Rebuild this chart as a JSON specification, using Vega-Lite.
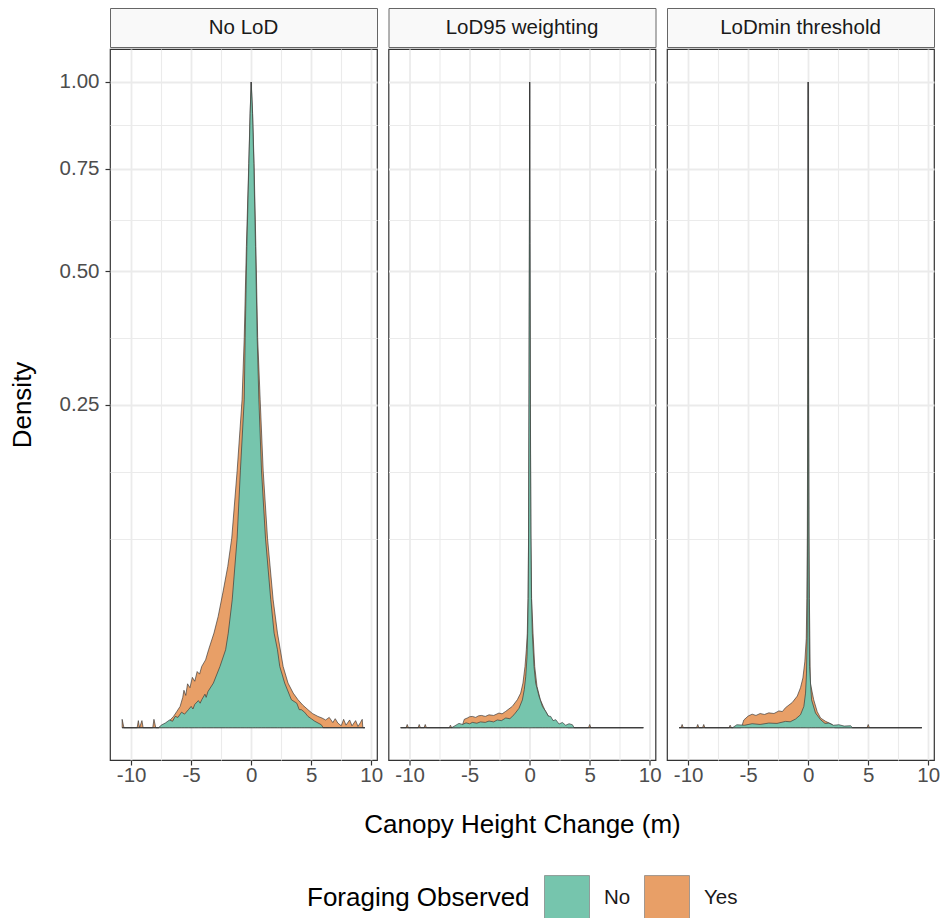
{
  "$schema": "https://vega.github.io/schema/vega-lite/v6.json",
  "background": "white",
  "padding": {"left": 8, "top": 7, "right": 0, "bottom": 0},
  "datasets": {
    "dens": [
      {"panel":"No LoD","foraging":"No","change":-10.75,"density":0},
      {"panel":"No LoD","foraging":"No","change":-7.7,"density":0},
      {"panel":"No LoD","foraging":"No","change":-7.5,"density":0.000016},
      {"panel":"No LoD","foraging":"No","change":-7.16,"density":0.0000518},
      {"panel":"No LoD","foraging":"No","change":-6.8,"density":0.000144},
      {"panel":"No LoD","foraging":"No","change":-6.55,"density":0.000100},
      {"panel":"No LoD","foraging":"No","change":-6.33,"density":0.000306},
      {"panel":"No LoD","foraging":"No","change":-6.1,"density":0.000256},
      {"panel":"No LoD","foraging":"No","change":-5.8,"density":0.000576},
      {"panel":"No LoD","foraging":"No","change":-5.55,"density":0.000441},
      {"panel":"No LoD","foraging":"No","change":-5.23,"density":0.000778},
      {"panel":"No LoD","foraging":"No","change":-5.0,"density":0.00109},
      {"panel":"No LoD","foraging":"No","change":-4.85,"density":0.000841},
      {"panel":"No LoD","foraging":"No","change":-4.7,"density":0.0013},
      {"panel":"No LoD","foraging":"No","change":-4.4,"density":0.00176},
      {"panel":"No LoD","foraging":"No","change":-4.25,"density":0.00144},
      {"panel":"No LoD","foraging":"No","change":-4.12,"density":0.001875},
      {"panel":"No LoD","foraging":"No","change":-3.85,"density":0.0027},
      {"panel":"No LoD","foraging":"No","change":-3.75,"density":0.00221},
      {"panel":"No LoD","foraging":"No","change":-3.6,"density":0.003136},
      {"panel":"No LoD","foraging":"No","change":-3.15,"density":0.004775},
      {"panel":"No LoD","foraging":"No","change":-2.6,"density":0.009006},
      {"panel":"No LoD","foraging":"No","change":-2.13,"density":0.01457},
      {"panel":"No LoD","foraging":"No","change":-1.91,"density":0.02146},
      {"panel":"No LoD","foraging":"No","change":-1.58,"density":0.03924},
      {"panel":"No LoD","foraging":"No","change":-1.17,"density":0.0862},
      {"panel":"No LoD","foraging":"No","change":-0.9,"density":0.1582},
      {"panel":"No LoD","foraging":"No","change":-0.58,"density":0.2578},
      {"panel":"No LoD","foraging":"No","change":-0.5,"density":0.3648},
      {"panel":"No LoD","foraging":"No","change":-0.36,"density":0.555},
      {"panel":"No LoD","foraging":"No","change":-0.19,"density":0.7639},
      {"panel":"No LoD","foraging":"No","change":-0.083,"density":0.9054},
      {"panel":"No LoD","foraging":"No","change":0,"density":1},
      {"panel":"No LoD","foraging":"No","change":0.11,"density":0.9054},
      {"panel":"No LoD","foraging":"No","change":0.22,"density":0.7639},
      {"panel":"No LoD","foraging":"No","change":0.36,"density":0.555},
      {"panel":"No LoD","foraging":"No","change":0.5,"density":0.3648},
      {"panel":"No LoD","foraging":"No","change":0.64,"density":0.2578},
      {"panel":"No LoD","foraging":"No","change":0.86,"density":0.1582},
      {"panel":"No LoD","foraging":"No","change":1.19,"density":0.0862},
      {"panel":"No LoD","foraging":"No","change":1.63,"density":0.03924},
      {"panel":"No LoD","foraging":"No","change":1.91,"density":0.02146},
      {"panel":"No LoD","foraging":"No","change":2.19,"density":0.01457},
      {"panel":"No LoD","foraging":"No","change":2.38,"density":0.009006},
      {"panel":"No LoD","foraging":"No","change":2.79,"density":0.004775},
      {"panel":"No LoD","foraging":"No","change":3.35,"density":0.001875},
      {"panel":"No LoD","foraging":"No","change":3.8,"density":0.00144},
      {"panel":"No LoD","foraging":"No","change":4.0,"density":0.000784},
      {"panel":"No LoD","foraging":"No","change":4.18,"density":0.000778},
      {"panel":"No LoD","foraging":"No","change":4.45,"density":0.000576},
      {"panel":"No LoD","foraging":"No","change":4.73,"density":0.000306},
      {"panel":"No LoD","foraging":"No","change":5.3,"density":0.0001},
      {"panel":"No LoD","foraging":"No","change":5.84,"density":0.0000212},
      {"panel":"No LoD","foraging":"No","change":6.0,"density":0},
      {"panel":"No LoD","foraging":"No","change":9.47,"density":0},

      {"panel":"No LoD","foraging":"Yes","change":-10.75,"density":0.000169},
      {"panel":"No LoD","foraging":"Yes","change":-10.6,"density":0},
      {"panel":"No LoD","foraging":"Yes","change":-9.5,"density":0},
      {"panel":"No LoD","foraging":"Yes","change":-9.4,"density":0.000121},
      {"panel":"No LoD","foraging":"Yes","change":-9.3,"density":0},
      {"panel":"No LoD","foraging":"Yes","change":-9.1,"density":0.000121},
      {"panel":"No LoD","foraging":"Yes","change":-9.0,"density":0},
      {"panel":"No LoD","foraging":"Yes","change":-8.2,"density":0},
      {"panel":"No LoD","foraging":"Yes","change":-8.1,"density":0.000169},
      {"panel":"No LoD","foraging":"Yes","change":-7.95,"density":0},
      {"panel":"No LoD","foraging":"Yes","change":-7.7,"density":0},
      {"panel":"No LoD","foraging":"Yes","change":-7.3,"density":0.0000212},
      {"panel":"No LoD","foraging":"Yes","change":-6.9,"density":0.000081},
      {"panel":"No LoD","foraging":"Yes","change":-6.47,"density":0.000306},
      {"panel":"No LoD","foraging":"Yes","change":-6.2,"density":0.000625},
      {"panel":"No LoD","foraging":"Yes","change":-5.92,"density":0.001089},
      {"panel":"No LoD","foraging":"Yes","change":-5.7,"density":0.00221},
      {"panel":"No LoD","foraging":"Yes","change":-5.6,"density":0.003364},
      {"panel":"No LoD","foraging":"Yes","change":-5.45,"density":0.0025},
      {"panel":"No LoD","foraging":"Yes","change":-5.3,"density":0.004624},
      {"panel":"No LoD","foraging":"Yes","change":-5.1,"density":0.003844},
      {"panel":"No LoD","foraging":"Yes","change":-4.9,"density":0.006084},
      {"panel":"No LoD","foraging":"Yes","change":-4.7,"density":0.005184},
      {"panel":"No LoD","foraging":"Yes","change":-4.5,"density":0.007569},
      {"panel":"No LoD","foraging":"Yes","change":-4.3,"density":0.006889},
      {"panel":"No LoD","foraging":"Yes","change":-4.12,"density":0.009006},
      {"panel":"No LoD","foraging":"Yes","change":-3.8,"density":0.011025},
      {"panel":"No LoD","foraging":"Yes","change":-3.55,"density":0.01457},
      {"panel":"No LoD","foraging":"Yes","change":-3.1,"density":0.02146},
      {"panel":"No LoD","foraging":"Yes","change":-2.75,"density":0.02969},
      {"panel":"No LoD","foraging":"Yes","change":-2.35,"density":0.0441},
      {"panel":"No LoD","foraging":"Yes","change":-1.95,"density":0.0624},
      {"panel":"No LoD","foraging":"Yes","change":-1.62,"density":0.0862},
      {"panel":"No LoD","foraging":"Yes","change":-1.17,"density":0.1582},
      {"panel":"No LoD","foraging":"Yes","change":-0.76,"density":0.2578},
      {"panel":"No LoD","foraging":"Yes","change":-0.58,"density":0.3648},
      {"panel":"No LoD","foraging":"Yes","change":-0.4,"density":0.555},
      {"panel":"No LoD","foraging":"Yes","change":-0.2,"density":0.7639},
      {"panel":"No LoD","foraging":"Yes","change":-0.09,"density":0.9054},
      {"panel":"No LoD","foraging":"Yes","change":0,"density":1},
      {"panel":"No LoD","foraging":"Yes","change":0.12,"density":0.9054},
      {"panel":"No LoD","foraging":"Yes","change":0.24,"density":0.7639},
      {"panel":"No LoD","foraging":"Yes","change":0.39,"density":0.555},
      {"panel":"No LoD","foraging":"Yes","change":0.54,"density":0.3648},
      {"panel":"No LoD","foraging":"Yes","change":0.75,"density":0.2578},
      {"panel":"No LoD","foraging":"Yes","change":1.0,"density":0.1582},
      {"panel":"No LoD","foraging":"Yes","change":1.36,"density":0.0862},
      {"panel":"No LoD","foraging":"Yes","change":1.83,"density":0.03924},
      {"panel":"No LoD","foraging":"Yes","change":2.19,"density":0.02146},
      {"panel":"No LoD","foraging":"Yes","change":2.66,"density":0.009006},
      {"panel":"No LoD","foraging":"Yes","change":3.07,"density":0.004775},
      {"panel":"No LoD","foraging":"Yes","change":3.5,"density":0.002873},
      {"panel":"No LoD","foraging":"Yes","change":3.9,"density":0.001875},
      {"panel":"No LoD","foraging":"Yes","change":4.3,"density":0.001225},
      {"panel":"No LoD","foraging":"Yes","change":4.73,"density":0.000778},
      {"panel":"No LoD","foraging":"Yes","change":5.1,"density":0.000484},
      {"panel":"No LoD","foraging":"Yes","change":5.56,"density":0.000306},
      {"panel":"No LoD","foraging":"Yes","change":5.9,"density":0.000225},
      {"panel":"No LoD","foraging":"Yes","change":6.2,"density":0.000144},
      {"panel":"No LoD","foraging":"Yes","change":6.5,"density":0.000256},
      {"panel":"No LoD","foraging":"Yes","change":6.8,"density":0.000064},
      {"panel":"No LoD","foraging":"Yes","change":7.0,"density":0.000196},
      {"panel":"No LoD","foraging":"Yes","change":7.22,"density":0.0000518},
      {"panel":"No LoD","foraging":"Yes","change":7.5,"density":0.000009},
      {"panel":"No LoD","foraging":"Yes","change":7.7,"density":0.000169},
      {"panel":"No LoD","foraging":"Yes","change":7.9,"density":0.000016},
      {"panel":"No LoD","foraging":"Yes","change":8.2,"density":0.000144},
      {"panel":"No LoD","foraging":"Yes","change":8.4,"density":0.000009},
      {"panel":"No LoD","foraging":"Yes","change":8.7,"density":0.000121},
      {"panel":"No LoD","foraging":"Yes","change":8.9,"density":0.000004},
      {"panel":"No LoD","foraging":"Yes","change":9.1,"density":0.000064},
      {"panel":"No LoD","foraging":"Yes","change":9.25,"density":0.000169},
      {"panel":"No LoD","foraging":"Yes","change":9.3,"density":0},
      {"panel":"No LoD","foraging":"Yes","change":9.47,"density":0},

      {"panel":"LoD95 weighting","foraging":"No","change":-10.75,"density":0},
      {"panel":"LoD95 weighting","foraging":"No","change":-6.5,"density":0},
      {"panel":"LoD95 weighting","foraging":"No","change":-5.89,"density":0.0000449},
      {"panel":"LoD95 weighting","foraging":"No","change":-5.6,"density":0.0000256},
      {"panel":"LoD95 weighting","foraging":"No","change":-5.3,"density":0.0000563},
      {"panel":"LoD95 weighting","foraging":"No","change":-5.0,"density":0.0000361},
      {"panel":"LoD95 weighting","foraging":"No","change":-4.78,"density":0.0000672},
      {"panel":"LoD95 weighting","foraging":"No","change":-4.4,"density":0.0000484},
      {"panel":"LoD95 weighting","foraging":"No","change":-4.1,"density":0.000081},
      {"panel":"LoD95 weighting","foraging":"No","change":-3.7,"density":0.0000676},
      {"panel":"LoD95 weighting","foraging":"No","change":-3.39,"density":0.000106},
      {"panel":"LoD95 weighting","foraging":"No","change":-3.0,"density":0.000081},
      {"panel":"LoD95 weighting","foraging":"No","change":-2.7,"density":0.000144},
      {"panel":"LoD95 weighting","foraging":"No","change":-2.35,"density":0.000121},
      {"panel":"LoD95 weighting","foraging":"No","change":-2.0,"density":0.000225},
      {"panel":"LoD95 weighting","foraging":"No","change":-1.65,"density":0.000196},
      {"panel":"LoD95 weighting","foraging":"No","change":-1.31,"density":0.0004},
      {"panel":"LoD95 weighting","foraging":"No","change":-0.89,"density":0.0009},
      {"panel":"LoD95 weighting","foraging":"No","change":-0.61,"density":0.00185},
      {"panel":"LoD95 weighting","foraging":"No","change":-0.45,"density":0.00348},
      {"panel":"LoD95 weighting","foraging":"No","change":-0.33,"density":0.00624},
      {"panel":"LoD95 weighting","foraging":"No","change":-0.22,"density":0.0121},
      {"panel":"LoD95 weighting","foraging":"No","change":-0.17,"density":0.02146},
      {"panel":"LoD95 weighting","foraging":"No","change":-0.12,"density":0.04},
      {"panel":"LoD95 weighting","foraging":"No","change":-0.09,"density":0.09},
      {"panel":"LoD95 weighting","foraging":"No","change":-0.06,"density":0.25},
      {"panel":"LoD95 weighting","foraging":"No","change":-0.03,"density":0.5625},
      {"panel":"LoD95 weighting","foraging":"No","change":0,"density":1},
      {"panel":"LoD95 weighting","foraging":"No","change":0.03,"density":0.5625},
      {"panel":"LoD95 weighting","foraging":"No","change":0.06,"density":0.25},
      {"panel":"LoD95 weighting","foraging":"No","change":0.1,"density":0.09},
      {"panel":"LoD95 weighting","foraging":"No","change":0.15,"density":0.04},
      {"panel":"LoD95 weighting","foraging":"No","change":0.22,"density":0.02146},
      {"panel":"LoD95 weighting","foraging":"No","change":0.36,"density":0.009},
      {"panel":"LoD95 weighting","foraging":"No","change":0.5,"density":0.004775},
      {"panel":"LoD95 weighting","foraging":"No","change":0.78,"density":0.00235},
      {"panel":"LoD95 weighting","foraging":"No","change":1.06,"density":0.00109},
      {"panel":"LoD95 weighting","foraging":"No","change":1.33,"density":0.00064},
      {"panel":"LoD95 weighting","foraging":"No","change":1.55,"density":0.000324},
      {"panel":"LoD95 weighting","foraging":"No","change":1.75,"density":0.000306},
      {"panel":"LoD95 weighting","foraging":"No","change":1.95,"density":0.000121},
      {"panel":"LoD95 weighting","foraging":"No","change":2.17,"density":0.000154},
      {"panel":"LoD95 weighting","foraging":"No","change":2.45,"density":0.0000324},
      {"panel":"LoD95 weighting","foraging":"No","change":2.72,"density":0.0000672},
      {"panel":"LoD95 weighting","foraging":"No","change":3.0,"density":0.0000144},
      {"panel":"LoD95 weighting","foraging":"No","change":3.28,"density":0.0000384},
      {"panel":"LoD95 weighting","foraging":"No","change":3.56,"density":0.0000212},
      {"panel":"LoD95 weighting","foraging":"No","change":3.7,"density":0},
      {"panel":"LoD95 weighting","foraging":"No","change":9.47,"density":0},

      {"panel":"LoD95 weighting","foraging":"Yes","change":-10.75,"density":0},
      {"panel":"LoD95 weighting","foraging":"Yes","change":-10.3,"density":0},
      {"panel":"LoD95 weighting","foraging":"Yes","change":-10.2,"density":0.000025},
      {"panel":"LoD95 weighting","foraging":"Yes","change":-10.1,"density":0},
      {"panel":"LoD95 weighting","foraging":"Yes","change":-9.3,"density":0},
      {"panel":"LoD95 weighting","foraging":"Yes","change":-9.2,"density":0.000025},
      {"panel":"LoD95 weighting","foraging":"Yes","change":-9.1,"density":0},
      {"panel":"LoD95 weighting","foraging":"Yes","change":-8.8,"density":0},
      {"panel":"LoD95 weighting","foraging":"Yes","change":-8.7,"density":0.000025},
      {"panel":"LoD95 weighting","foraging":"Yes","change":-8.6,"density":0},
      {"panel":"LoD95 weighting","foraging":"Yes","change":-6.7,"density":0},
      {"panel":"LoD95 weighting","foraging":"Yes","change":-6.6,"density":0.000016},
      {"panel":"LoD95 weighting","foraging":"Yes","change":-6.5,"density":0},
      {"panel":"LoD95 weighting","foraging":"Yes","change":-5.8,"density":0},
      {"panel":"LoD95 weighting","foraging":"Yes","change":-5.6,"density":0.000016},
      {"panel":"LoD95 weighting","foraging":"Yes","change":-5.45,"density":0.000169},
      {"panel":"LoD95 weighting","foraging":"Yes","change":-5.2,"density":0.000225},
      {"panel":"LoD95 weighting","foraging":"Yes","change":-5.0,"density":0.000289},
      {"panel":"LoD95 weighting","foraging":"Yes","change":-4.78,"density":0.000306},
      {"panel":"LoD95 weighting","foraging":"Yes","change":-4.5,"density":0.000256},
      {"panel":"LoD95 weighting","foraging":"Yes","change":-4.25,"density":0.000342},
      {"panel":"LoD95 weighting","foraging":"Yes","change":-4.0,"density":0.000361},
      {"panel":"LoD95 weighting","foraging":"Yes","change":-3.7,"density":0.000306},
      {"panel":"LoD95 weighting","foraging":"Yes","change":-3.39,"density":0.0004},
      {"panel":"LoD95 weighting","foraging":"Yes","change":-3.0,"density":0.000361},
      {"panel":"LoD95 weighting","foraging":"Yes","change":-2.56,"density":0.000515},
      {"panel":"LoD95 weighting","foraging":"Yes","change":-2.3,"density":0.000462},
      {"panel":"LoD95 weighting","foraging":"Yes","change":-2.0,"density":0.00064},
      {"panel":"LoD95 weighting","foraging":"Yes","change":-1.45,"density":0.00109},
      {"panel":"LoD95 weighting","foraging":"Yes","change":-1.03,"density":0.001875},
      {"panel":"LoD95 weighting","foraging":"Yes","change":-0.75,"density":0.002873},
      {"panel":"LoD95 weighting","foraging":"Yes","change":-0.56,"density":0.004775},
      {"panel":"LoD95 weighting","foraging":"Yes","change":-0.39,"density":0.009006},
      {"panel":"LoD95 weighting","foraging":"Yes","change":-0.28,"density":0.01457},
      {"panel":"LoD95 weighting","foraging":"Yes","change":-0.2,"density":0.02146},
      {"panel":"LoD95 weighting","foraging":"Yes","change":-0.14,"density":0.04},
      {"panel":"LoD95 weighting","foraging":"Yes","change":-0.09,"density":0.09},
      {"panel":"LoD95 weighting","foraging":"Yes","change":-0.05,"density":0.25},
      {"panel":"LoD95 weighting","foraging":"Yes","change":-0.02,"density":0.5625},
      {"panel":"LoD95 weighting","foraging":"Yes","change":0,"density":1},
      {"panel":"LoD95 weighting","foraging":"Yes","change":0.02,"density":0.5625},
      {"panel":"LoD95 weighting","foraging":"Yes","change":0.05,"density":0.25},
      {"panel":"LoD95 weighting","foraging":"Yes","change":0.1,"density":0.09},
      {"panel":"LoD95 weighting","foraging":"Yes","change":0.16,"density":0.04},
      {"panel":"LoD95 weighting","foraging":"Yes","change":0.28,"density":0.02146},
      {"panel":"LoD95 weighting","foraging":"Yes","change":0.42,"density":0.009006},
      {"panel":"LoD95 weighting","foraging":"Yes","change":0.61,"density":0.00408},
      {"panel":"LoD95 weighting","foraging":"Yes","change":0.89,"density":0.001875},
      {"panel":"LoD95 weighting","foraging":"Yes","change":1.25,"density":0.000778},
      {"panel":"LoD95 weighting","foraging":"Yes","change":1.58,"density":0.000306},
      {"panel":"LoD95 weighting","foraging":"Yes","change":2.0,"density":0.000096},
      {"panel":"LoD95 weighting","foraging":"Yes","change":2.42,"density":0.0000212},
      {"panel":"LoD95 weighting","foraging":"Yes","change":2.97,"density":0.0000044},
      {"panel":"LoD95 weighting","foraging":"Yes","change":3.2,"density":0},
      {"panel":"LoD95 weighting","foraging":"Yes","change":4.9,"density":0},
      {"panel":"LoD95 weighting","foraging":"Yes","change":5.0,"density":0.000025},
      {"panel":"LoD95 weighting","foraging":"Yes","change":5.1,"density":0},
      {"panel":"LoD95 weighting","foraging":"Yes","change":9.47,"density":0},

      {"panel":"LoDmin threshold","foraging":"No","change":-10.75,"density":0},
      {"panel":"LoDmin threshold","foraging":"No","change":-6.3,"density":0},
      {"panel":"LoDmin threshold","foraging":"No","change":-5.94,"density":0.0000212},
      {"panel":"LoDmin threshold","foraging":"No","change":-5.3,"density":0.0000144},
      {"panel":"LoDmin threshold","foraging":"No","change":-4.67,"density":0.0000384},
      {"panel":"LoDmin threshold","foraging":"No","change":-4.0,"density":0.0000256},
      {"panel":"LoDmin threshold","foraging":"No","change":-3.28,"density":0.0000518},
      {"panel":"LoDmin threshold","foraging":"No","change":-2.6,"density":0.0000441},
      {"panel":"LoDmin threshold","foraging":"No","change":-1.89,"density":0.000096},
      {"panel":"LoDmin threshold","foraging":"No","change":-1.5,"density":0.0000841},
      {"panel":"LoDmin threshold","foraging":"No","change":-1.05,"density":0.00018},
      {"panel":"LoDmin threshold","foraging":"No","change":-0.64,"density":0.000404},
      {"panel":"LoDmin threshold","foraging":"No","change":-0.36,"density":0.00109},
      {"panel":"LoDmin threshold","foraging":"No","change":-0.22,"density":0.00287},
      {"panel":"LoDmin threshold","foraging":"No","change":-0.14,"density":0.00716},
      {"panel":"LoDmin threshold","foraging":"No","change":-0.08,"density":0.02146},
      {"panel":"LoDmin threshold","foraging":"No","change":-0.05,"density":0.09},
      {"panel":"LoDmin threshold","foraging":"No","change":-0.03,"density":0.25},
      {"panel":"LoDmin threshold","foraging":"No","change":-0.015,"density":0.5625},
      {"panel":"LoDmin threshold","foraging":"No","change":0,"density":1},
      {"panel":"LoDmin threshold","foraging":"No","change":0.015,"density":0.5625},
      {"panel":"LoDmin threshold","foraging":"No","change":0.03,"density":0.25},
      {"panel":"LoDmin threshold","foraging":"No","change":0.05,"density":0.09},
      {"panel":"LoDmin threshold","foraging":"No","change":0.07,"density":0.04},
      {"panel":"LoDmin threshold","foraging":"No","change":0.09,"density":0.0196},
      {"panel":"LoDmin threshold","foraging":"No","change":0.11,"density":0.009006},
      {"panel":"LoDmin threshold","foraging":"No","change":0.28,"density":0.001875},
      {"panel":"LoDmin threshold","foraging":"No","change":0.61,"density":0.000515},
      {"panel":"LoDmin threshold","foraging":"No","change":1.03,"density":0.000154},
      {"panel":"LoDmin threshold","foraging":"No","change":1.4,"density":0.0000441},
      {"panel":"LoDmin threshold","foraging":"No","change":1.72,"density":0.0000518},
      {"panel":"LoDmin threshold","foraging":"No","change":2.1,"density":0.0000144},
      {"panel":"LoDmin threshold","foraging":"No","change":2.56,"density":0.0000212},
      {"panel":"LoDmin threshold","foraging":"No","change":3.0,"density":0.0000064},
      {"panel":"LoDmin threshold","foraging":"No","change":3.53,"density":0.0000096},
      {"panel":"LoDmin threshold","foraging":"No","change":3.7,"density":0},
      {"panel":"LoDmin threshold","foraging":"No","change":9.47,"density":0},

      {"panel":"LoDmin threshold","foraging":"Yes","change":-10.75,"density":0},
      {"panel":"LoDmin threshold","foraging":"Yes","change":-10.6,"density":0},
      {"panel":"LoDmin threshold","foraging":"Yes","change":-10.5,"density":0.000025},
      {"panel":"LoDmin threshold","foraging":"Yes","change":-10.4,"density":0},
      {"panel":"LoDmin threshold","foraging":"Yes","change":-9.3,"density":0},
      {"panel":"LoDmin threshold","foraging":"Yes","change":-9.2,"density":0.000025},
      {"panel":"LoDmin threshold","foraging":"Yes","change":-9.1,"density":0},
      {"panel":"LoDmin threshold","foraging":"Yes","change":-8.8,"density":0},
      {"panel":"LoDmin threshold","foraging":"Yes","change":-8.7,"density":0.000025},
      {"panel":"LoDmin threshold","foraging":"Yes","change":-8.6,"density":0},
      {"panel":"LoDmin threshold","foraging":"Yes","change":-6.6,"density":0},
      {"panel":"LoDmin threshold","foraging":"Yes","change":-6.5,"density":0.000016},
      {"panel":"LoDmin threshold","foraging":"Yes","change":-6.4,"density":0},
      {"panel":"LoDmin threshold","foraging":"Yes","change":-5.6,"density":0},
      {"panel":"LoDmin threshold","foraging":"Yes","change":-5.5,"density":0.000016},
      {"panel":"LoDmin threshold","foraging":"Yes","change":-5.36,"density":0.000144},
      {"panel":"LoDmin threshold","foraging":"Yes","change":-5.0,"density":0.000324},
      {"panel":"LoDmin threshold","foraging":"Yes","change":-4.67,"density":0.000441},
      {"panel":"LoDmin threshold","foraging":"Yes","change":-4.35,"density":0.000361},
      {"panel":"LoDmin threshold","foraging":"Yes","change":-4.0,"density":0.000484},
      {"panel":"LoDmin threshold","foraging":"Yes","change":-3.65,"density":0.000420},
      {"panel":"LoDmin threshold","foraging":"Yes","change":-3.28,"density":0.000529},
      {"panel":"LoDmin threshold","foraging":"Yes","change":-2.85,"density":0.000484},
      {"panel":"LoDmin threshold","foraging":"Yes","change":-2.44,"density":0.000676},
      {"panel":"LoDmin threshold","foraging":"Yes","change":-2.15,"density":0.000625},
      {"panel":"LoDmin threshold","foraging":"Yes","change":-1.89,"density":0.000961},
      {"panel":"LoDmin threshold","foraging":"Yes","change":-1.33,"density":0.00152},
      {"panel":"LoDmin threshold","foraging":"Yes","change":-0.91,"density":0.0024},
      {"panel":"LoDmin threshold","foraging":"Yes","change":-0.64,"density":0.00384},
      {"panel":"LoDmin threshold","foraging":"Yes","change":-0.44,"density":0.00593},
      {"panel":"LoDmin threshold","foraging":"Yes","change":-0.28,"density":0.0104},
      {"panel":"LoDmin threshold","foraging":"Yes","change":-0.16,"density":0.019},
      {"panel":"LoDmin threshold","foraging":"Yes","change":-0.11,"density":0.04},
      {"panel":"LoDmin threshold","foraging":"Yes","change":-0.07,"density":0.09},
      {"panel":"LoDmin threshold","foraging":"Yes","change":-0.04,"density":0.25},
      {"panel":"LoDmin threshold","foraging":"Yes","change":-0.015,"density":0.5625},
      {"panel":"LoDmin threshold","foraging":"Yes","change":0,"density":1},
      {"panel":"LoDmin threshold","foraging":"Yes","change":0.015,"density":0.5625},
      {"panel":"LoDmin threshold","foraging":"Yes","change":0.04,"density":0.25},
      {"panel":"LoDmin threshold","foraging":"Yes","change":0.07,"density":0.09},
      {"panel":"LoDmin threshold","foraging":"Yes","change":0.1,"density":0.04},
      {"panel":"LoDmin threshold","foraging":"Yes","change":0.18,"density":0.004775},
      {"panel":"LoDmin threshold","foraging":"Yes","change":0.46,"density":0.001875},
      {"panel":"LoDmin threshold","foraging":"Yes","change":0.75,"density":0.000625},
      {"panel":"LoDmin threshold","foraging":"Yes","change":1.03,"density":0.000225},
      {"panel":"LoDmin threshold","foraging":"Yes","change":1.44,"density":0.0001},
      {"panel":"LoDmin threshold","foraging":"Yes","change":2.0,"density":0.000025},
      {"panel":"LoDmin threshold","foraging":"Yes","change":2.2,"density":0},
      {"panel":"LoDmin threshold","foraging":"Yes","change":4.9,"density":0},
      {"panel":"LoDmin threshold","foraging":"Yes","change":5.0,"density":0.000025},
      {"panel":"LoDmin threshold","foraging":"Yes","change":5.1,"density":0},
      {"panel":"LoDmin threshold","foraging":"Yes","change":9.47,"density":0}
    ]
  },
  "data": {"name": "dens"},
  "spacing": 0,
  "resolve": {"scale": {"color": "shared"}, "legend": {"color": "shared"}},
  "vconcat": [
    {
      "spacing": 11.5,
      "bounds": "flush",
      "hconcat": [
        {
          "width": 267, "height": 39,
          "data": {"values": [{"label": "No LoD"}]},
          "view": {"fill": "#F9F9F9", "stroke": "#666666", "strokeWidth": 1},
          "mark": {"type": "text", "fontSize": 20.5, "color": "#1A1A1A", "align": "center", "baseline": "middle"},
          "encoding": {"text": {"field": "label", "type": "nominal"}}
        },
        {
          "width": 267, "height": 39,
          "data": {"values": [{"label": "LoD95 weighting"}]},
          "view": {"fill": "#F9F9F9", "stroke": "#666666", "strokeWidth": 1},
          "mark": {"type": "text", "fontSize": 20.5, "color": "#1A1A1A", "align": "center", "baseline": "middle"},
          "encoding": {"text": {"field": "label", "type": "nominal"}}
        },
        {
          "width": 267, "height": 39,
          "data": {"values": [{"label": "LoDmin threshold"}]},
          "view": {"fill": "#F9F9F9", "stroke": "#666666", "strokeWidth": 1},
          "mark": {"type": "text", "fontSize": 20.5, "color": "#1A1A1A", "align": "center", "baseline": "middle"},
          "encoding": {"text": {"field": "label", "type": "nominal"}}
        }
      ]
    },
    {
      "spacing": 11.5,
      "bounds": "flush",
      "hconcat": [
        {
          "width": 267, "height": 711,
          "view": {"stroke": "#333333", "strokeWidth": 1.2},
          "transform": [{"filter": "datum.panel == 'No LoD'"}],
          "encoding": {
            "x": {"field": "change", "type": "quantitative", "scale": {"domain": [-11.76, 10.48], "nice": false, "zero": false},
                  "axis": {"values": [-10,-7.5,-5,-2.5,0,2.5,5,7.5,10], "title": null,
                           "labelExpr": "datum.value % 5 == 0 ? '' + datum.value : ''",
                           "tickOpacity": {"condition": {"test": "datum.value % 5 == 0", "value": 1}, "value": 0},
                           "gridWidth": {"condition": {"test": "datum.value % 5 == 0", "value": 1.8}, "value": 1.1}}},
            "y": {"field": "density", "type": "quantitative", "stack": null,
                  "scale": {"type": "sqrt", "domain": [-0.0025, 1.1048], "nice": false, "zero": false},
                  "axis": {"values": [0.08579,0.15717,0.25,0.36428,0.5,0.61869,0.75,0.87051,1], "title": "Density", "titlePadding": 24,
                           "labelExpr": "indexof([0.25,0.5,0.75,1], datum.value) >= 0 ? format(datum.value, '.2f') : ''",
                           "tickOpacity": {"condition": {"test": "indexof([0.25,0.5,0.75,1], datum.value) >= 0", "value": 1}, "value": 0},
                           "gridWidth": {"condition": {"test": "indexof([0.25,0.5,0.75,1], datum.value) >= 0", "value": 1.8}, "value": 1.1}}},
            "color": {"field": "foraging", "type": "nominal", "title": "Foraging Observed",
                      "scale": {"domain": ["No", "Yes"], "range": ["#76C5AD", "#E89F67"]}}
          },
          "layer": [
            {"transform": [{"filter": "datum.foraging == 'Yes'"}], "mark": {"type": "area", "stroke": "#333333", "strokeWidth": 0.65, "opacity": 1}},
            {"transform": [{"filter": "datum.foraging == 'No'"}], "mark": {"type": "area", "stroke": "#333333", "strokeWidth": 0.65, "opacity": 1}}
          ]
        },
        {
          "width": 267, "height": 711,
          "view": {"stroke": "#333333", "strokeWidth": 1.2},
          "transform": [{"filter": "datum.panel == 'LoD95 weighting'"}],
          "encoding": {
            "x": {"field": "change", "type": "quantitative", "scale": {"domain": [-11.76, 10.48], "nice": false, "zero": false},
                  "axis": {"values": [-10,-7.5,-5,-2.5,0,2.5,5,7.5,10], "title": "Canopy Height Change (m)", "titlePadding": 26,
                           "labelExpr": "datum.value % 5 == 0 ? '' + datum.value : ''",
                           "tickOpacity": {"condition": {"test": "datum.value % 5 == 0", "value": 1}, "value": 0},
                           "gridWidth": {"condition": {"test": "datum.value % 5 == 0", "value": 1.8}, "value": 1.1}}},
            "y": {"field": "density", "type": "quantitative", "stack": null,
                  "scale": {"type": "sqrt", "domain": [-0.0025, 1.1048], "nice": false, "zero": false},
                  "axis": {"values": [0.08579,0.15717,0.25,0.36428,0.5,0.61869,0.75,0.87051,1], "title": null, "labels": false, "ticks": false,
                           "gridWidth": {"condition": {"test": "indexof([0.25,0.5,0.75,1], datum.value) >= 0", "value": 1.8}, "value": 1.1}}},
            "color": {"field": "foraging", "type": "nominal", "title": "Foraging Observed",
                      "scale": {"domain": ["No", "Yes"], "range": ["#76C5AD", "#E89F67"]}}
          },
          "layer": [
            {"transform": [{"filter": "datum.foraging == 'Yes'"}], "mark": {"type": "area", "stroke": "#333333", "strokeWidth": 0.65, "opacity": 1}},
            {"transform": [{"filter": "datum.foraging == 'No'"}], "mark": {"type": "area", "stroke": "#333333", "strokeWidth": 0.65, "opacity": 1}}
          ]
        },
        {
          "width": 267, "height": 711,
          "view": {"stroke": "#333333", "strokeWidth": 1.2},
          "transform": [{"filter": "datum.panel == 'LoDmin threshold'"}],
          "encoding": {
            "x": {"field": "change", "type": "quantitative", "scale": {"domain": [-11.76, 10.48], "nice": false, "zero": false},
                  "axis": {"values": [-10,-7.5,-5,-2.5,0,2.5,5,7.5,10], "title": null,
                           "labelExpr": "datum.value % 5 == 0 ? '' + datum.value : ''",
                           "tickOpacity": {"condition": {"test": "datum.value % 5 == 0", "value": 1}, "value": 0},
                           "gridWidth": {"condition": {"test": "datum.value % 5 == 0", "value": 1.8}, "value": 1.1}}},
            "y": {"field": "density", "type": "quantitative", "stack": null,
                  "scale": {"type": "sqrt", "domain": [-0.0025, 1.1048], "nice": false, "zero": false},
                  "axis": {"values": [0.08579,0.15717,0.25,0.36428,0.5,0.61869,0.75,0.87051,1], "title": null, "labels": false, "ticks": false,
                           "gridWidth": {"condition": {"test": "indexof([0.25,0.5,0.75,1], datum.value) >= 0", "value": 1.8}, "value": 1.1}}},
            "color": {"field": "foraging", "type": "nominal", "title": "Foraging Observed",
                      "scale": {"domain": ["No", "Yes"], "range": ["#76C5AD", "#E89F67"]}}
          },
          "layer": [
            {"transform": [{"filter": "datum.foraging == 'Yes'"}], "mark": {"type": "area", "stroke": "#333333", "strokeWidth": 0.65, "opacity": 1}},
            {"transform": [{"filter": "datum.foraging == 'No'"}], "mark": {"type": "area", "stroke": "#333333", "strokeWidth": 0.65, "opacity": 1}}
          ]
        }
      ]
    }
  ],
  "config": {
    "font": "Liberation Sans",
    "view": {"stroke": null},
    "axis": {
      "domain": false, "gridColor": "#EBEBEB", "tickColor": "#333333", "tickWidth": 1.2, "tickSize": 5,
      "labelColor": "#4D4D4D", "labelFontSize": 20.5, "labelFont": "Liberation Sans",
      "titleFontSize": 26, "titleFontWeight": "normal", "titleColor": "#000000", "titleFont": "Liberation Sans"
    },
    "axisX": {"labelPadding": 0},
    "axisY": {"labelPadding": 6},
    "legend": {
      "orient": "none", "legendX": 197, "legendY": 867, "direction": "horizontal", "titleOrient": "left",
      "titleFontSize": 26, "titleFontWeight": "normal", "titleColor": "#000000", "titleFont": "Liberation Sans", "titleLimit": 500,
      "labelFontSize": 20.5, "labelColor": "#1A1A1A", "labelFont": "Liberation Sans",
      "symbolType": "square", "symbolSize": 2025, "symbolStrokeColor": "#7F7F7F", "symbolStrokeWidth": 0.7, "symbolOpacity": 1,
      "labelOffset": 14, "columnPadding": 12, "titlePadding": 14, "titleBaseline": "middle"
    }
  }
}
